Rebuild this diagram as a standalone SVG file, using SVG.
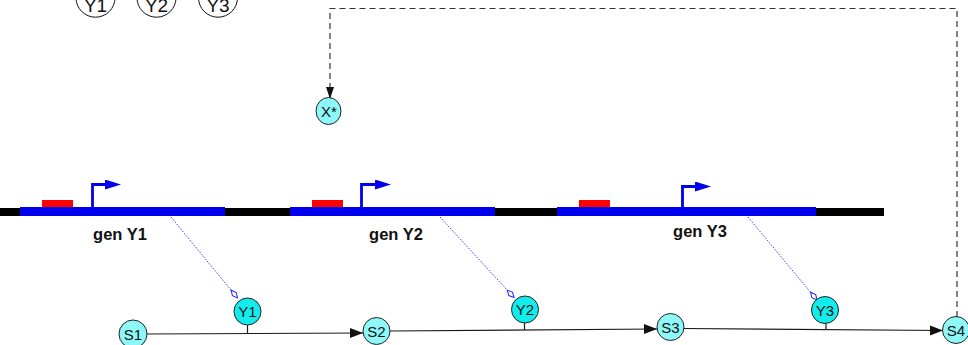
<svg xmlns="http://www.w3.org/2000/svg" width="968" height="345" viewBox="0 0 968 345">
<style>
text{font-family:"Liberation Sans",Arial,sans-serif;fill:#111}
.lbl{font-size:15px;text-anchor:middle}
.tl{font-size:19px;text-anchor:middle}
.gen{font-size:16.5px;font-weight:bold;text-anchor:middle}
.yn{fill:#12ecec;stroke:#222;stroke-width:1}
.sn{fill:#8ef8f8;stroke:#222;stroke-width:1}
.top{fill:#fff;stroke:#111;stroke-width:1}
.edge{stroke:#1a1a1a;stroke-width:1.2;fill:none}
.dot{stroke:#3a3aff;stroke-width:1;stroke-dasharray:1.5 1.5;fill:none}
.dash{stroke:#333;stroke-width:1.2;stroke-dasharray:6 4;fill:none}
.prom{stroke:#0000ee;stroke-width:2.8;fill:none}
</style>
<defs>
<marker id="arr" markerUnits="userSpaceOnUse" markerWidth="14" markerHeight="12" refX="13" refY="5" orient="auto"><path d="M0,0 L13,5 L0,10 Z" fill="#111"/></marker>
<marker id="arrd" markerUnits="userSpaceOnUse" markerWidth="14" markerHeight="10" refX="12" refY="4" orient="auto"><path d="M0,0 L12,4 L0,8 Z" fill="#111"/></marker>
<marker id="dia" markerUnits="userSpaceOnUse" markerWidth="12" markerHeight="8" refX="11" refY="3.5" orient="auto"><path d="M1,3.5 L6,1 L11,3.5 L6,6 Z" fill="#fff" stroke="#2222ff" stroke-width="1"/></marker>
<marker id="pa" markerUnits="userSpaceOnUse" markerWidth="18" markerHeight="12" refX="0" refY="5" orient="auto"><path d="M0,0 L16,5 L0,10 Z" fill="#0000ee"/></marker>
</defs>

<g id="top-Y1"><circle class="top" cx="95.5" cy="-2.3" r="19.5"/><text class="tl" x="95.5" y="11.5">Y1</text></g>
<g id="top-Y2"><circle class="top" cx="156.5" cy="-2.3" r="19.5"/><text class="tl" x="156.5" y="11.5">Y2</text></g>
<g id="top-Y3"><circle class="top" cx="218" cy="-2.3" r="19.5"/><text class="tl" x="218" y="11.5">Y3</text></g>

<g id="dna">
<rect x="0" y="208" width="884" height="8" fill="#000"/>
</g>
<g id="geneY1">
<rect x="20" y="207" width="205" height="9" fill="#0000ee"/>
<rect x="42" y="200" width="31" height="7" fill="#ff0000"/>
<path class="prom" d="M92.5,207 V184.5 H105" marker-end="url(#pa)"/>
<text class="gen" x="120" y="240">gen Y1</text>
</g>
<g id="geneY2">
<rect x="290" y="207" width="205" height="9" fill="#0000ee"/>
<rect x="312" y="200" width="31" height="7" fill="#ff0000"/>
<path class="prom" d="M361.5,207 V184.5 H375" marker-end="url(#pa)"/>
<text class="gen" x="396" y="240">gen Y2</text>
</g>
<g id="geneY3">
<rect x="557" y="207" width="259" height="9" fill="#0000ee"/>
<rect x="579" y="200" width="31" height="7" fill="#ff0000"/>
<path class="prom" d="M682.5,207 V186.5 H695" marker-end="url(#pa)"/>
<text class="gen" x="700" y="237">gen Y3</text>
</g>

<g id="connectors">
<path class="dash" d="M957,317 V8.5 H330 V99" marker-end="url(#arrd)"/>
<line class="dot" x1="171" y1="217" x2="237.5" y2="298" marker-end="url(#dia)"/>
<line class="dot" x1="440" y1="217" x2="514" y2="297.5" marker-end="url(#dia)"/>
<line class="dot" x1="748" y1="217" x2="817" y2="300" marker-end="url(#dia)"/>
<line class="edge" x1="147" y1="334" x2="363" y2="333" marker-end="url(#arr)"/>
<line class="edge" x1="390" y1="331" x2="657" y2="329" marker-end="url(#arr)"/>
<line class="edge" x1="684" y1="328.5" x2="943" y2="330.5" marker-end="url(#arr)"/>
<line class="edge" x1="247.5" y1="325" x2="247.5" y2="333.5"/>
<line class="edge" x1="524.5" y1="323" x2="524.5" y2="330"/>
<line class="edge" x1="826" y1="323.5" x2="826" y2="330"/>
</g>

<g id="X"><ellipse class="sn" cx="328.5" cy="111" rx="12.5" ry="13.5"/><text class="lbl" x="329" y="117">X*</text></g>
<g id="Y1"><circle class="yn" cx="247.5" cy="311.5" r="13.5"/><text class="lbl" x="247.5" y="317">Y1</text></g>
<g id="Y2"><circle class="yn" cx="525" cy="309.5" r="13.5"/><text class="lbl" x="525" y="315">Y2</text></g>
<g id="Y3"><circle class="yn" cx="825" cy="310" r="13.5"/><text class="lbl" x="825" y="315.5">Y3</text></g>
<g id="S1"><circle class="sn" cx="133" cy="334" r="14"/><text class="lbl" x="133" y="339.5">S1</text></g>
<g id="S2"><circle class="sn" cx="376.5" cy="331" r="13.5"/><text class="lbl" x="376.5" y="336.5">S2</text></g>
<g id="S3"><circle class="sn" cx="670.5" cy="327" r="13.5"/><text class="lbl" x="670.5" y="332.5">S3</text></g>
<g id="S4"><circle class="sn" cx="956" cy="330" r="13.5"/><text class="lbl" x="956" y="335.5">S4</text></g>
</svg>
